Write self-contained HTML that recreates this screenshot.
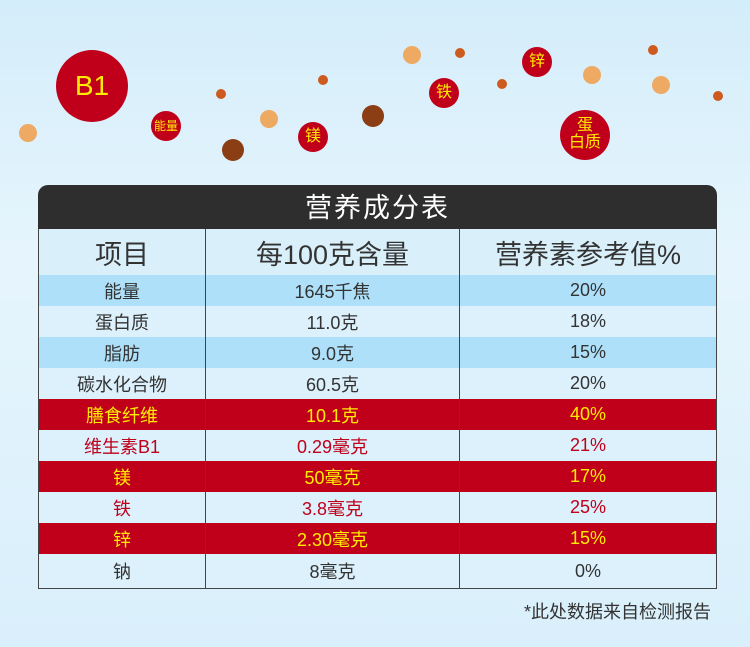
<!DOCTYPE html><html><head><meta charset="utf-8"><style>
body{margin:0;width:750px;height:647px;overflow:hidden;background:linear-gradient(#d4edfa,#e6f5fd 40%,#d9effb);font-family:"Liberation Sans","Noto Sans CJK SC",sans-serif;position:relative}
.c{position:absolute;border-radius:50%;display:flex;align-items:center;justify-content:center;color:#ffec00;text-align:center;line-height:1.05}
.r{background:#c0001a}
.o{background:#eeaa62}.d{background:#cd5a1e}.b{background:#8b3d14}
table{position:absolute;left:38px;top:229px;width:679px;border-collapse:collapse;font-size:18px;color:#333}
td{text-align:center;border-left:1px solid #444;border-right:1px solid #444;padding:0;height:31px}
.hd{position:absolute;left:38px;top:185px;width:679px;height:44px;background:#2e2e2e;border-radius:10px 10px 0 0;color:#fff;font-size:27px;text-align:center;line-height:46px;letter-spacing:2px}
tr.h td{height:46px;font-size:27px;background:#d9f0fb}
.a td{background:#aee0fa}.l td{background:#dcf1fc}
.red td{background:#c0001a;color:#ffec00}
.t td{background:#dcf1fc;color:#c0001a}
</style></head><body>
<div class="c r" style="left:56px;top:50px;width:72px;height:72px;font-size:28px">B1</div>
<div class="c r" style="left:151px;top:111px;width:30px;height:30px;font-size:12px">能量</div>
<div class="c r" style="left:298px;top:122px;width:30px;height:30px;font-size:16px">镁</div>
<div class="c r" style="left:429px;top:78px;width:30px;height:30px;font-size:16px">铁</div>
<div class="c r" style="left:522px;top:47px;width:30px;height:30px;font-size:16px">锌</div>
<div class="c r" style="left:560px;top:110px;width:50px;height:50px;font-size:16px">蛋<br>白质</div>
<div class="c o" style="left:19px;top:124px;width:18px;height:18px"></div>
<div class="c o" style="left:260px;top:110px;width:18px;height:18px"></div>
<div class="c o" style="left:403px;top:46px;width:18px;height:18px"></div>
<div class="c o" style="left:583px;top:66px;width:18px;height:18px"></div>
<div class="c o" style="left:652px;top:76px;width:18px;height:18px"></div>
<div class="c d" style="left:216px;top:89px;width:10px;height:10px"></div>
<div class="c d" style="left:318px;top:75px;width:10px;height:10px"></div>
<div class="c d" style="left:455px;top:48px;width:10px;height:10px"></div>
<div class="c d" style="left:497px;top:79px;width:10px;height:10px"></div>
<div class="c d" style="left:648px;top:45px;width:10px;height:10px"></div>
<div class="c d" style="left:713px;top:91px;width:10px;height:10px"></div>
<div class="c b" style="left:222px;top:139px;width:22px;height:22px"></div>
<div class="c b" style="left:362px;top:105px;width:22px;height:22px"></div>
<div class="hd">营养成分表</div>
<table>
<colgroup><col style="width:167px"><col style="width:254px"><col></colgroup>
<tr class="h"><td>项目</td><td>每100克含量</td><td>营养素参考值%</td></tr>
<tr class="a"><td>能量</td><td>1645千焦</td><td>20%</td></tr>
<tr class="l"><td>蛋白质</td><td>11.0克</td><td>18%</td></tr>
<tr class="a"><td>脂肪</td><td>9.0克</td><td>15%</td></tr>
<tr class="l"><td>碳水化合物</td><td>60.5克</td><td>20%</td></tr>
<tr class="red"><td>膳食纤维</td><td>10.1克</td><td>40%</td></tr>
<tr class="t"><td>维生素B1</td><td>0.29毫克</td><td>21%</td></tr>
<tr class="red"><td>镁</td><td>50毫克</td><td>17%</td></tr>
<tr class="t"><td>铁</td><td>3.8毫克</td><td>25%</td></tr>
<tr class="red"><td>锌</td><td>2.30毫克</td><td>15%</td></tr>
<tr class="l"><td style="height:34px;border-bottom:1px solid #444">钠</td><td style="border-bottom:1px solid #444">8毫克</td><td style="border-bottom:1px solid #444">0%</td></tr>
</table>
<div style="position:absolute;left:524px;top:598px;font-size:18px;color:#333">*此处数据来自检测报告</div>
</body></html>
